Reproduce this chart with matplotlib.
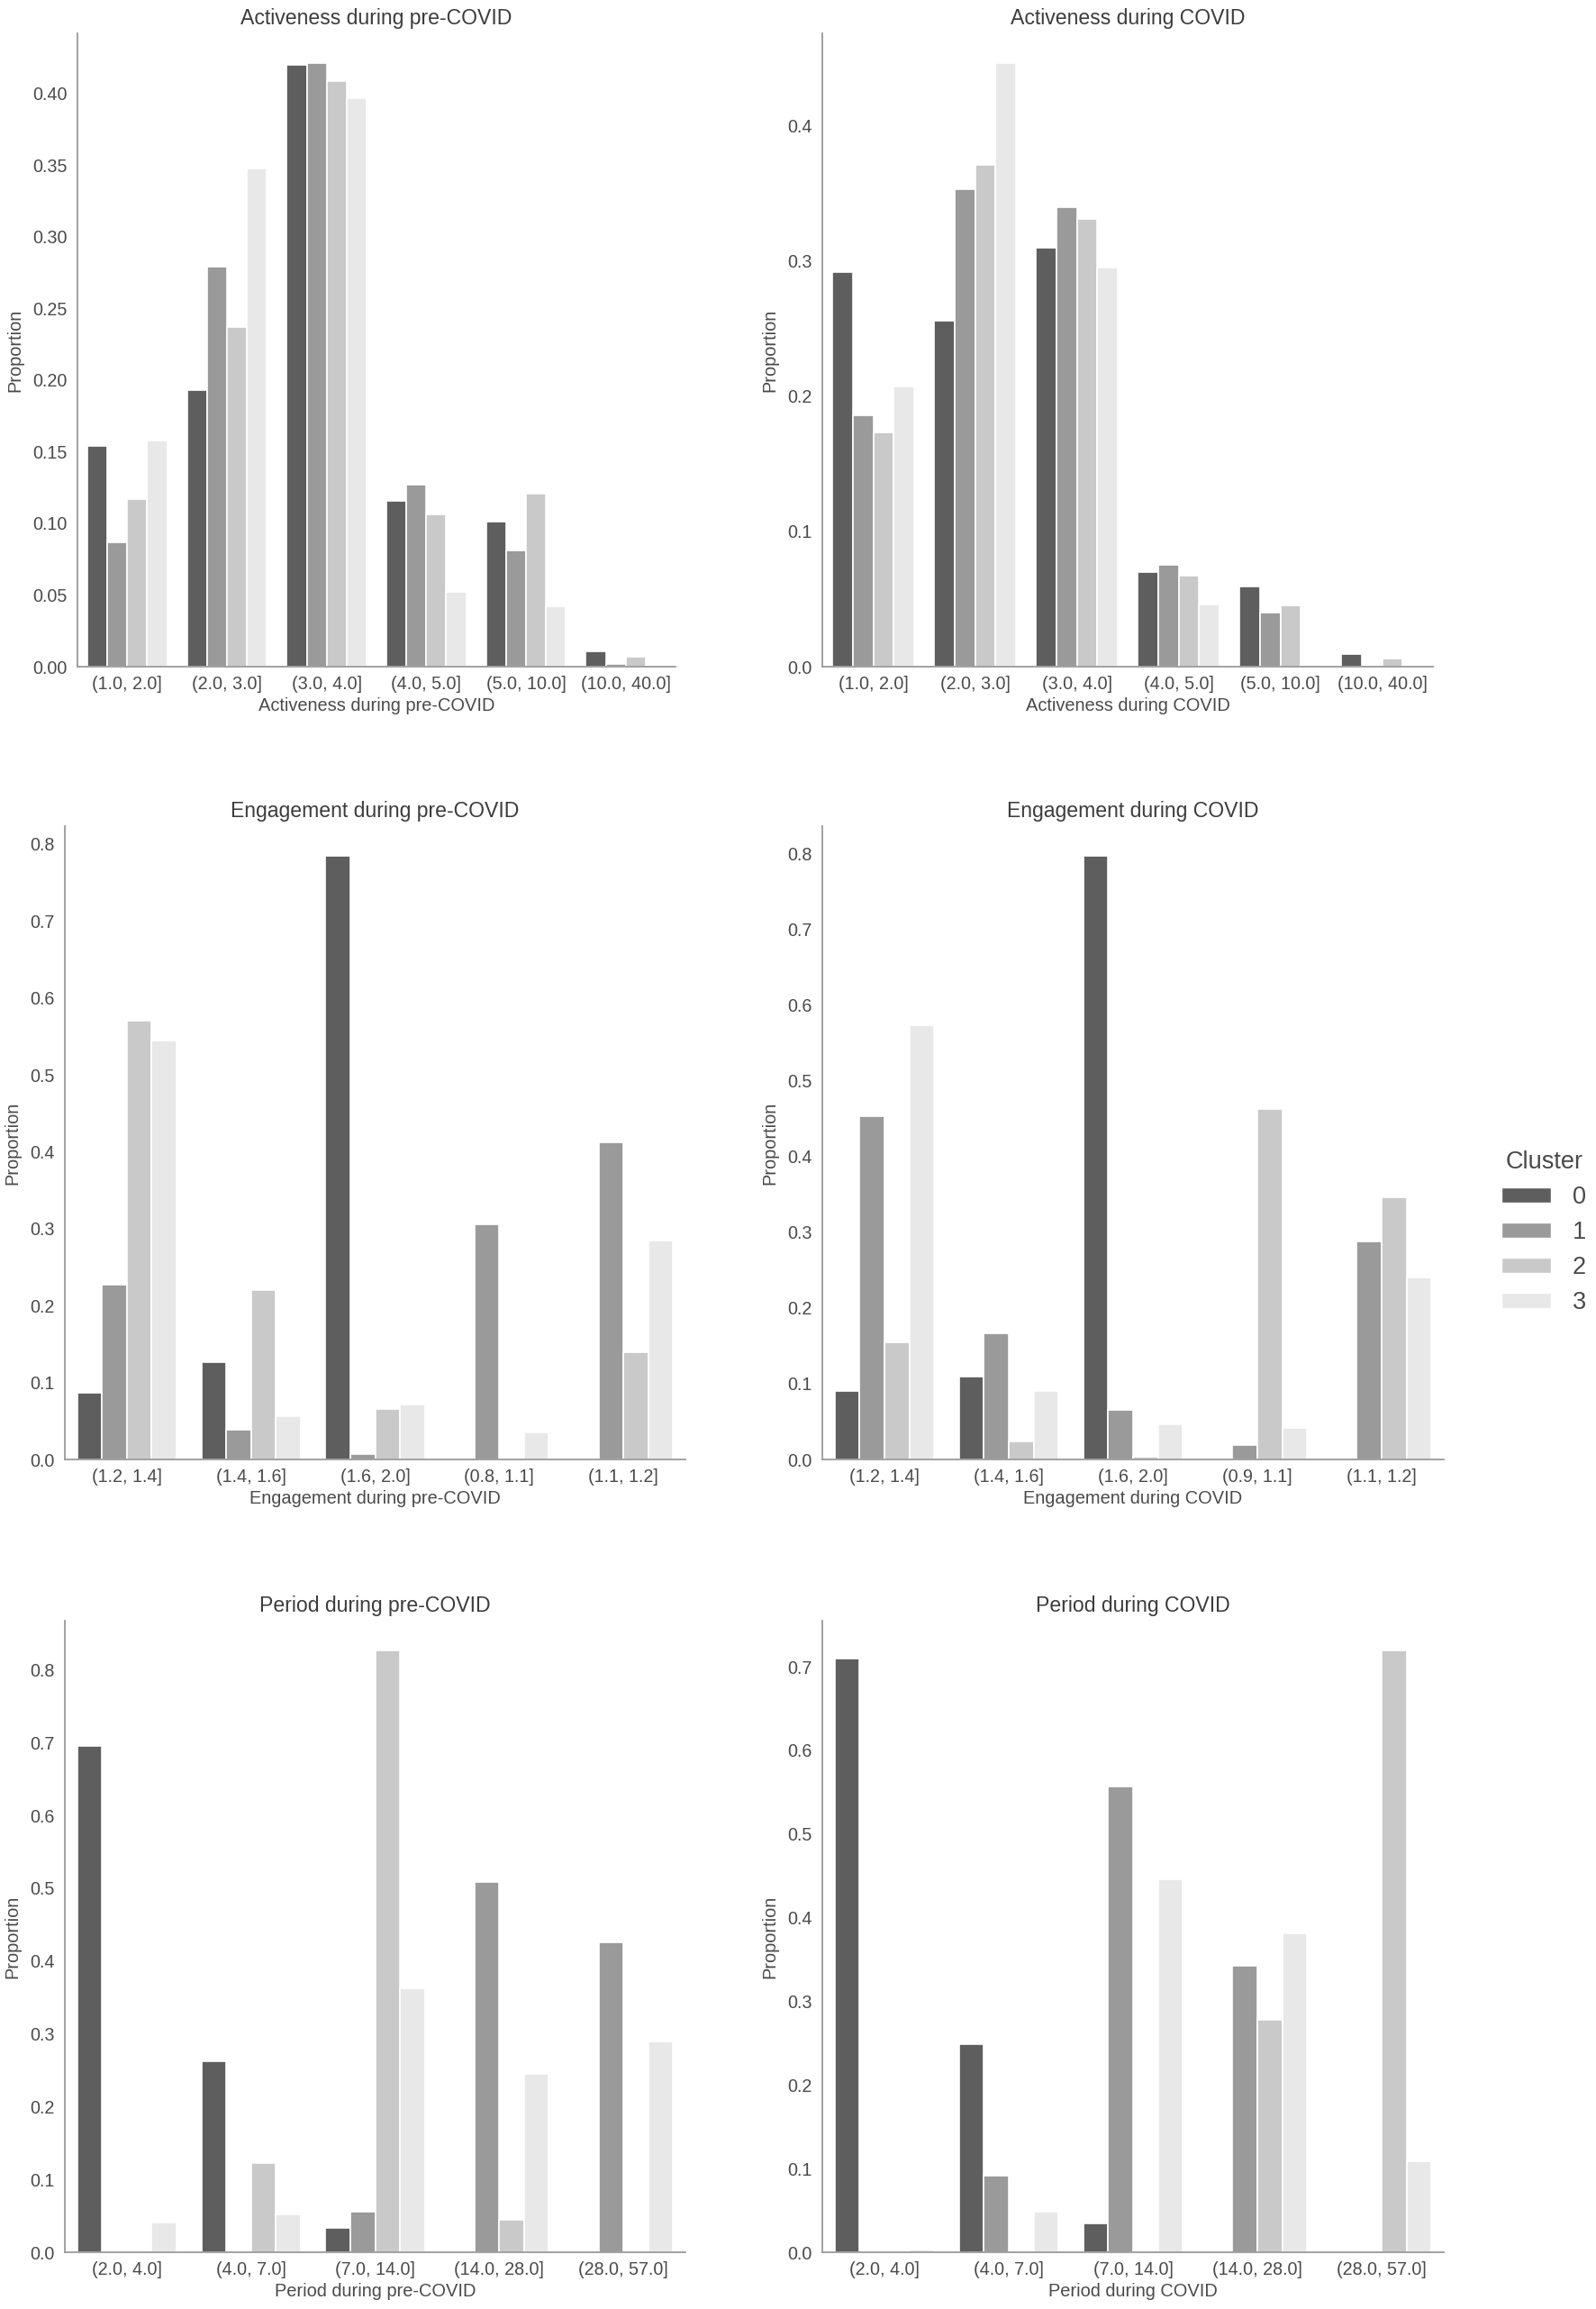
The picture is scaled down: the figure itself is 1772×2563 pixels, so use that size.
import matplotlib
matplotlib.use("Agg")
import matplotlib.pyplot as plt
from matplotlib.patches import Patch
from matplotlib.ticker import MultipleLocator, FormatStrFormatter
import numpy as np

plt.rcParams['font.family'] = ['Liberation Sans', 'DejaVu Sans']

clusters = ["0", "1", "2", "3"]
cluster_colors = ["#5e5e5e", "#9a9a9a", "#c9c9c9", "#e8e8e8"]

act_cats = ["(1.0, 2.0]", "(2.0, 3.0]", "(3.0, 4.0]", "(4.0, 5.0]", "(5.0, 10.0]", "(10.0, 40.0]"]
eng_pre_cats = ["(1.2, 1.4]", "(1.4, 1.6]", "(1.6, 2.0]", "(0.8, 1.1]", "(1.1, 1.2]"]
eng_cov_cats = ["(1.2, 1.4]", "(1.4, 1.6]", "(1.6, 2.0]", "(0.9, 1.1]", "(1.1, 1.2]"]
per_cats = ["(2.0, 4.0]", "(4.0, 7.0]", "(7.0, 14.0]", "(14.0, 28.0]", "(28.0, 57.0]"]

# values per cluster (rows: cluster 0..3), columns: categories
act_pre = [
    [0.154, 0.193, 0.420, 0.116, 0.101, 0.011],
    [0.087, 0.279, 0.421, 0.127, 0.081, 0.002],
    [0.117, 0.237, 0.409, 0.106, 0.121, 0.007],
    [0.158, 0.348, 0.397, 0.052, 0.042, 0.000],
]
act_cov = [
    [0.292, 0.256, 0.310, 0.070, 0.059, 0.009],
    [0.186, 0.353, 0.340, 0.075, 0.040, 0.000],
    [0.173, 0.371, 0.331, 0.067, 0.045, 0.006],
    [0.207, 0.446, 0.295, 0.046, 0.001, 0.000],
]
eng_pre = [
    [0.087, 0.126, 0.784, 0.000, 0.000],
    [0.227, 0.039, 0.007, 0.306, 0.412],
    [0.570, 0.220, 0.065, 0.000, 0.139],
    [0.545, 0.056, 0.071, 0.035, 0.284],
]
eng_cov = [
    [0.090, 0.110, 0.797, 0.000, 0.000],
    [0.453, 0.167, 0.065, 0.019, 0.288],
    [0.155, 0.024, 0.004, 0.463, 0.347],
    [0.574, 0.091, 0.046, 0.042, 0.240],
]
per_pre = [
    [0.695, 0.262, 0.034, 0.000, 0.000],
    [0.000, 0.000, 0.056, 0.509, 0.426],
    [0.000, 0.122, 0.826, 0.045, 0.000],
    [0.041, 0.052, 0.363, 0.245, 0.289],
]
per_cov = [
    [0.710, 0.249, 0.034, 0.000, 0.000],
    [0.000, 0.092, 0.557, 0.342, 0.001],
    [0.000, 0.000, 0.000, 0.278, 0.719],
    [0.003, 0.049, 0.446, 0.381, 0.109],
]

panels = [
    ("Activeness during pre-COVID", act_cats, act_pre, 0.05),
    ("Activeness during COVID", act_cats, act_cov, 0.1),
    ("Engagement during pre-COVID", eng_pre_cats, eng_pre, 0.1),
    ("Engagement during COVID", eng_cov_cats, eng_cov, 0.1),
    ("Period during pre-COVID", per_cats, per_pre, 0.1),
    ("Period during COVID", per_cats, per_cov, 0.1),
]

W, H = 1772, 2563
fig = plt.figure(figsize=(W / 100, H / 100), dpi=100)

# pixel boxes (left, right, top, bottom)
boxes = [
    (86, 750, 37, 740), (913, 1591, 37, 740),
    (72, 761, 917, 1620), (913, 1603, 917, 1620),
    (72, 761, 1799, 2500), (913, 1603, 1799, 2500),
]

text_col = "#4a4a4a"
spine_col = "#9a9a9a"

for i, (title, cats, vals, step) in enumerate(panels):
    l, r, t, b = boxes[i]
    ax = fig.add_axes([l / W, 1 - b / H, (r - l) / W, (b - t) / H])
    x = np.arange(len(cats))
    bw = 0.2
    for k in range(4):
        ax.bar(x - 0.3 + k * bw, vals[k], width=bw, color=cluster_colors[k],
               edgecolor="white", linewidth=1.2)
    ax.set_xlim(-0.5, len(cats) - 0.5)
    ax.yaxis.set_major_locator(MultipleLocator(step))
    ax.yaxis.set_major_formatter(FormatStrFormatter("%.2f" if step == 0.05 else "%.1f"))
    ax.set_xticks(x)
    ax.set_xticklabels(cats)
    ax.tick_params(axis="both", length=0, labelsize=14.2, colors=text_col)
    ax.tick_params(axis="y", pad=8)
    ax.tick_params(axis="x", pad=7)
    for s in ["top", "right"]:
        ax.spines[s].set_visible(False)
    for s in ["left", "bottom"]:
        ax.spines[s].set_color(spine_col)
        ax.spines[s].set_linewidth(1.3)
    ax.set_title(title, fontsize=16.6, color="#3c3c3c", pad=7)
    ax.set_xlabel(title, fontsize=14.4, color=text_col, labelpad=4)
    ax.set_ylabel("Proportion", fontsize=14.4, color=text_col, labelpad=7)

handles = [Patch(facecolor=cluster_colors[k], edgecolor="white", label=clusters[k]) for k in range(4)]
leg = fig.legend(handles=handles, title="Cluster", loc="center left",
                 bbox_to_anchor=(1662 / W, 1 - 1368 / H), frameon=False,
                 fontsize=19.5, title_fontsize=19.5, handlelength=2.0, handleheight=0.55,
                 labelspacing=0.48, handletextpad=0.9, borderaxespad=0, borderpad=0.2)
for tx in leg.get_texts():
    tx.set_color(text_col)
leg.get_title().set_color(text_col)

fig.savefig("out.png", dpi=100, facecolor="white")
